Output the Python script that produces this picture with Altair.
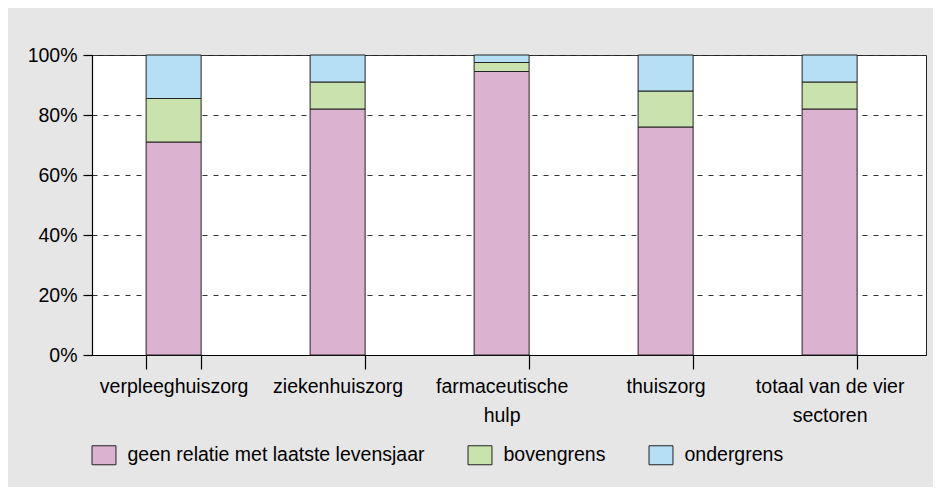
import json
import altair as alt
import pandas as pd

categories = ["verpleeghuiszorg", "ziekenhuiszorg", "farmaceutische hulp", "thuiszorg", "totaal van de vier sectoren"]
label_lines = [["verpleeghuiszorg"], ["ziekenhuiszorg"], ["farmaceutische", "hulp"], ["thuiszorg"], ["totaal van de vier", "sectoren"]]
series = ["geen relatie met laatste levensjaar", "bovengrens", "ondergrens"]
geen_relatie = [71, 82, 94.5, 76, 82]
bovengrens = [14.5, 9, 3, 12, 9]
ondergrens = [14.5, 9, 2.5, 12, 9]
colors = ["#dbb3d1", "#c9e2ae", "#b6def5"]
y_ticks = [0, 20, 40, 60, 80, 100]

rows = []
for s_i, (s, vals) in enumerate(zip(series, [geen_relatie, bovengrens, ondergrens])):
    for c, v in zip(categories, vals):
        rows.append({"categorie": c, "reeks": s, "waarde": v, "volgorde": s_i})
df = pd.DataFrame(rows)

parts = []
for c, lines in zip(categories, label_lines):
    parts.append(f"datum.value == {json.dumps(c)} ? {json.dumps(lines)} : ")
label_expr = "".join(parts) + "datum.label"

FONT = "Liberation Sans"
FS = 19.5

bars = alt.Chart(df).mark_bar(stroke="#222", strokeWidth=1).encode(
    x=alt.X(
        "categorie:N",
        sort=categories,
        scale=alt.Scale(paddingInner=0.6646, paddingOuter=0.375, align=0.44),
        axis=alt.Axis(
            title=None, labelAngle=0, labelExpr=label_expr, tickBand="extent",
            tickSize=14, labelPadding=8, labelFontSize=FS, labelLineHeight=29,
            labelFont=FONT, labelColor="#000", domainColor="#000", domainWidth=1.2,
            tickColor="#000", tickWidth=1.2, grid=False, labelOverlap=False, labelBound=False,
            labelLimit=0,
        ),
    ),
    y=alt.Y(
        "waarde:Q",
        stack="zero",
        scale=alt.Scale(domain=[0, 100], nice=False),
        axis=alt.Axis(
            values=y_ticks, labelExpr="datum.value + '%'", title=None,
            tickSize=9, labelPadding=6, labelFontSize=FS, labelFont=FONT, labelColor="#000",
            domainColor="#000", domainWidth=1.2, tickColor="#000", tickWidth=1.2,
            grid=True, gridDash=[5, 6], gridColor="#333", gridWidth=1,
        ),
    ),
    color=alt.Color(
        "reeks:N",
        sort=series,
        scale=alt.Scale(domain=series, range=colors),
        legend=alt.Legend(
            orient="none", legendX=2, legendY=390, direction="horizontal", title=None,
            symbolType="M-1.26,-1H1.26V1H-1.26Z", symbolSize=361,
            symbolStrokeColor="#222", symbolStrokeWidth=1,
            labelFontSize=FS, labelFont=FONT, labelColor="#000",
            labelOffset=13.5, columnPadding=41, labelLimit=0,
        ),
    ),
    order=alt.Order("volgorde:Q"),
).properties(
    width=834,
    height=300,
    autosize=alt.AutoSizeParams(type="none"),
    padding={"left": 84, "top": 47, "right": 7, "bottom": 132},
).configure(
    background="#e6e6e6",
).configure_view(
    fill="white", stroke="#222", strokeWidth=1,
)

chart = bars
chart.save("out.html", embed_options={"renderer": "svg", "actions": False})
